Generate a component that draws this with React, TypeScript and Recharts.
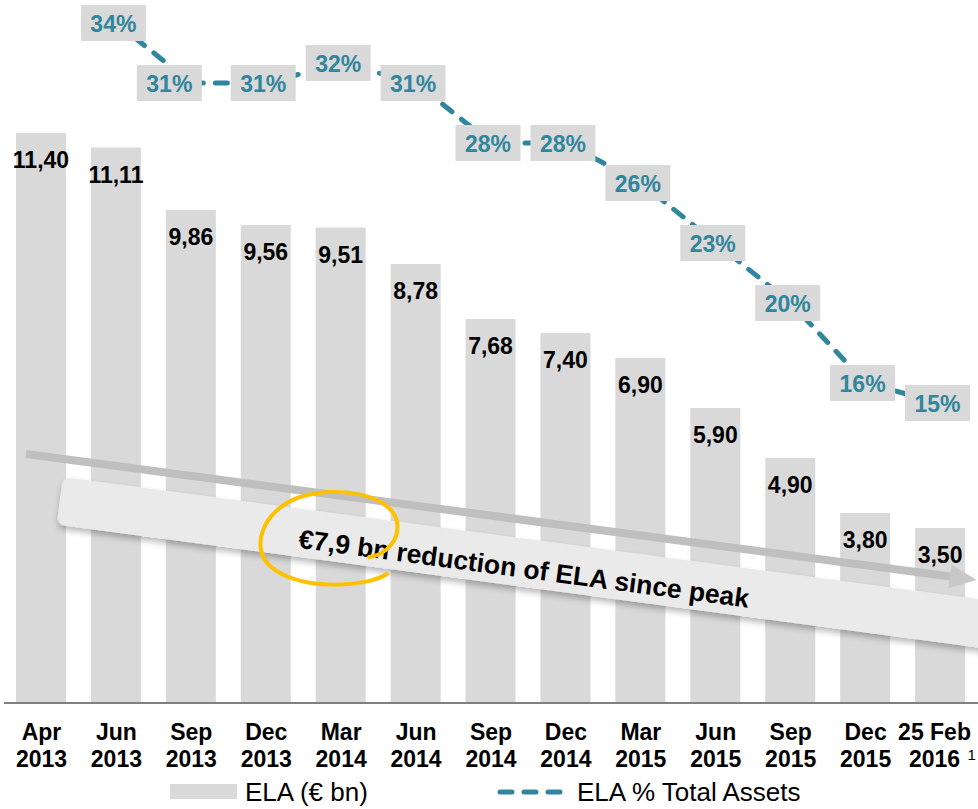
import React from 'react';
import { ComposedChart, Bar, Line, XAxis, YAxis, LabelList, Legend } from 'recharts';

// ELA outstanding and ELA share of total assets, per reporting date
const periods = ['Apr 2013', 'Jun 2013', 'Sep 2013', 'Dec 2013', 'Mar 2014', 'Jun 2014', 'Sep 2014', 'Dec 2014', 'Mar 2015', 'Jun 2015', 'Sep 2015', 'Dec 2015', '25 Feb 2016'];
const monthLabels = ['Apr', 'Jun', 'Sep', 'Dec', 'Mar', 'Jun', 'Sep', 'Dec', 'Mar', 'Jun', 'Sep', 'Dec', '25 Feb'];
const yearLabels = ['2013', '2013', '2013', '2013', '2014', '2014', '2014', '2014', '2015', '2015', '2015', '2015', '2016'];
const elaBn = [11.4, 11.11, 9.86, 9.56, 9.51, 8.78, 7.68, 7.4, 6.9, 5.9, 4.9, 3.8, 3.5];
const elaPctAssets: (number | null)[] = [null, 34, 31, 31, 32, 31, 28, 28, 26, 23, 20, 16, 15];

const data = periods.map((p, i) => ({ period: p, ela: elaBn[i], pct: elaPctAssets[i] }));

const FONT = '"Liberation Sans", Arial, sans-serif';
const TEAL = '#31859C';
const GREY = '#D9D9D9';

const PeriodTick = (props: any) => {
  const { x, y, payload } = props;
  const i = payload.index ?? props.index;
  const last = i === monthLabels.length - 1;
  const cx = last ? x - 6 : x;
  const st = { fontFamily: FONT, fontSize: 23, fontWeight: 700, fill: '#000' };
  return (
    <g>
      <text x={cx} y={y + 37} textAnchor="middle" style={st}>{monthLabels[i]}</text>
      <text x={cx} y={y + 64} textAnchor="middle" style={st}>{yearLabels[i]}</text>
      {last && (
        <text x={cx + 33} y={y + 57} style={{ fontFamily: FONT, fontSize: 15, fill: '#000' }}>1</text>
      )}
    </g>
  );
};

const barLabel = (props: any) => {
  const { x, y, width, value } = props;
  return (
    <text x={x + width / 2} y={y + 35} textAnchor="middle"
      style={{ fontFamily: FONT, fontSize: 23, fontWeight: 700, fill: '#000' }}>
      {Number(value).toFixed(2).replace('.', ',')}
    </text>
  );
};

const pctLabel = (props: any) => {
  const { x, y, value, index } = props;
  if (value == null) return null;
  // the Sep 2013 box sits left of its point in the original
  const cx = x - 3 + (index === 2 ? -19 : 0);
  return (
    <g>
      <rect x={cx - 32.5} y={y - 18} width={65} height={36} fill={GREY} />
      <text x={cx} y={y + 8.5} textAnchor="middle"
        style={{ fontFamily: FONT, fontSize: 23, fontWeight: 700, fill: TEAL }}>
        {value}%
      </text>
    </g>
  );
};

const legendContent = () => (
  <div style={{ position: 'relative', width: 978, height: 30, fontFamily: FONT, fontSize: 26, color: '#000' }}>
    <div style={{ position: 'absolute', left: 170, top: 7, width: 67, height: 15, background: GREY }} />
    <span style={{ position: 'absolute', left: 245, top: 0, lineHeight: '30px' }}>ELA (€ bn)</span>
    <svg style={{ position: 'absolute', left: 496, top: 9 }} width={68} height={12}>
      <line x1={4} y1={6} x2={64} y2={6} stroke={TEAL} strokeWidth={5} strokeDasharray="12 12" strokeLinecap="round" />
    </svg>
    <span style={{ position: 'absolute', left: 577, top: 0, lineHeight: '30px' }}>ELA % Total Assets</span>
  </div>
);

const Annotation = () => (
  <svg width={978} height={809} style={{ position: 'absolute', left: 0, top: 0, pointerEvents: 'none' }}>
    <defs>
      <filter id="bannerShadow" x="-5%" y="-50%" width="110%" height="200%">
        <feDropShadow dx={1} dy={4} stdDeviation={3} floodColor="#000" floodOpacity={0.28} />
      </filter>
    </defs>
    {/* grey trend arrow */}
    <g transform="rotate(7.55, 26, 454)">
      <rect x={26} y={450} width={936} height={8} fill="#BFBFBF" />
      <polygon points="958,442 985,454 958,466" fill="#C8C8C8" />
    </g>
    {/* banner */}
    <g transform="rotate(7.6, 63, 477)">
      <rect x={63} y={477} width={1000} height={48} rx={8} fill="#EAEAEA" filter="url(#bannerShadow)" />
      <text x={305} y={516} style={{ fontFamily: FONT, fontSize: 26.5, fontWeight: 700, fill: '#000' }}>
        €7,9 bn reduction of ELA since peak
      </text>
    </g>
    {/* hand drawn circle */}
    <path d="M387,574 C368,587 300,592 270,566 C250,548 262,510 300,497 C340,485 392,495 397,522 C400,540 386,555 369,557"
      fill="none" stroke="#FFC000" strokeWidth={4} strokeLinecap="round" />
  </svg>
);

export default function App() {
  return (
    <div style={{ position: 'absolute', left: 0, top: 0, width: 978, height: 809, background: '#fff', overflow: 'hidden' }}>
      <ComposedChart width={978} height={809} data={data} margin={{ top: 3, right: 0, left: 4, bottom: 36 }}>
        <XAxis dataKey="period" height={70} interval={0} tickLine={false} tickSize={0} tickMargin={0}
          axisLine={{ stroke: '#808080', strokeWidth: 2 }} tick={(p: any) => <PeriodTick {...p} />} />
        <YAxis yAxisId="ela" domain={[0, 14]} hide />
        <YAxis yAxisId="pct" orientation="right" domain={[0, 35]} hide />
        <Legend verticalAlign="middle" layout="horizontal" content={legendContent}
          wrapperStyle={{ top: 777, left: 0, width: 978, height: 30 }} />
        <Bar yAxisId="ela" dataKey="ela" name="ELA (€ bn)" fill={GREY} barSize={50} isAnimationActive={false}>
          <LabelList dataKey="ela" content={barLabel} />
        </Bar>
        <Line yAxisId="pct" dataKey="pct" name="ELA % Total Assets" stroke={TEAL} strokeWidth={5}
          strokeDasharray="12 12" strokeLinecap="round" dot={false} activeDot={false} isAnimationActive={false}>
          <LabelList dataKey="pct" content={pctLabel} />
        </Line>
      </ComposedChart>
      <Annotation />
    </div>
  );
}
